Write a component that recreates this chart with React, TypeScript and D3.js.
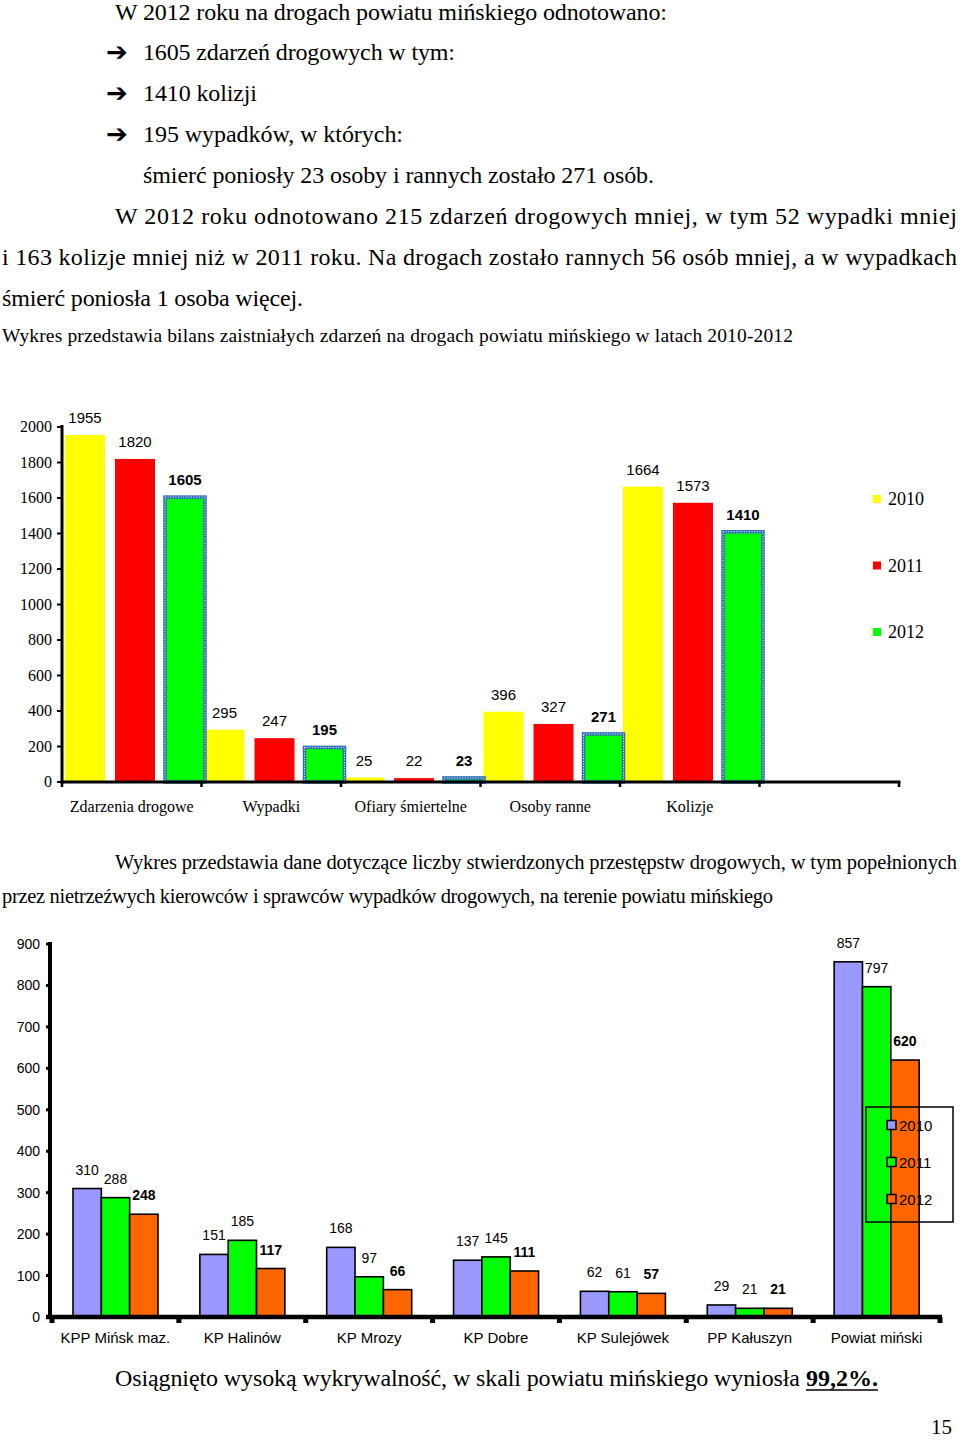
import React from "react";
import * as d3 from "d3";

// ---------- Chart 1 data ----------
const categories1 = ["Zdarzenia drogowe", "Wypadki", "Ofiary śmiertelne", "Osoby ranne", "Kolizje"];
const years = ["2010", "2011", "2012"];
const values2010a = [1955, 295, 25, 396, 1664];
const values2011a = [1820, 247, 22, 327, 1573];
const values2012a = [1605, 195, 23, 271, 1410];
const yTicks1 = [0, 200, 400, 600, 800, 1000, 1200, 1400, 1600, 1800, 2000];
const colors1 = ["#FFFF00", "#FF0000", "#00FF00"];

// ---------- Chart 2 data ----------
const categories2 = ["KPP Mińsk maz.", "KP Halinów", "KP Mrozy", "KP Dobre", "KP Sulejówek", "PP Kałuszyn", "Powiat miński"];
const values2010b = [310, 151, 168, 137, 62, 29, 857];
const values2011b = [288, 185, 97, 145, 61, 21, 797];
const values2012b = [248, 117, 66, 111, 57, 21, 620];
const yTicks2 = [0, 100, 200, 300, 400, 500, 600, 700, 800, 900];
const colors2 = ["#9999FF", "#00FF00", "#FF6600"];

const SERIF = "'Liberation Serif', 'Times New Roman', serif";
const SANS = "'Liberation Sans', Arial, sans-serif";

function Chart1() {
  const series = [values2010a, values2011a, values2012a];
  const y = d3.scaleLinear().domain([0, 2000]).range([782, 427]);
  const x = d3.scaleBand<string>().domain(categories1).range([62, 759.5]).paddingInner(0).paddingOuter(0);
  const xs = d3.scaleBand<string>().domain(years).range([3, 143]).paddingInner(0.2).paddingOuter(0);
  const axisEnd = 759.5 + x.step();
  const boundaries = d3.range(categories1.length + 2).map((i) => 62 + i * x.step());
  return (
    <g>
      {series.map((vals, si) =>
        vals.map((v, ci) => {
          const bx = (x(categories1[ci]) as number) + (xs(years[si]) as number);
          const bw = xs.bandwidth();
          const top = y(v);
          const h = y(0) - top;
          const isLast = si === 2;
          return (
            <g key={`b${si}-${ci}`}>
              <rect x={bx} y={top} width={bw} height={h} fill={colors1[si]} />
              {isLast && (
                <>
                  <rect x={bx} y={top} width={bw} height={h} fill="none" stroke="#2f6fb8" strokeWidth={3.5} />
                  <rect x={bx} y={top} width={bw} height={h} fill="none" stroke="#ffffff" strokeWidth={1} strokeDasharray="1 1.6" />
                </>
              )}
              <text
                x={bx + bw / 2}
                y={top - 12}
                textAnchor="middle"
                fontFamily={SANS}
                fontSize={15}
                fontWeight={isLast ? "bold" : "normal"}
                fill="#000"
              >
                {v}
              </text>
            </g>
          );
        })
      )}
      {/* axes */}
      <line x1={62} x2={62} y1={425} y2={783.5} stroke="#000" strokeWidth={3} />
      <line x1={60.5} x2={axisEnd + 1.5} y1={782} y2={782} stroke="#000" strokeWidth={3} />
      {yTicks1.map((t) => (
        <g key={`yt1-${t}`}>
          <line x1={57} x2={62} y1={y(t)} y2={y(t)} stroke="#000" strokeWidth={2} />
          <text x={52} y={y(t) + 5} textAnchor="end" fontFamily={SERIF} fontSize={16} fill="#000">
            {t}
          </text>
        </g>
      ))}
      {boundaries.map((bx, i) => (
        <line key={`xb1-${i}`} x1={bx} x2={bx} y1={782} y2={787} stroke="#000" strokeWidth={2.5} />
      ))}
      {categories1.map((c) => (
        <text
          key={`xl1-${c}`}
          x={(x(c) as number) + x.bandwidth() / 2}
          y={812}
          textAnchor="middle"
          fontFamily={SERIF}
          fontSize={16}
          fill="#000"
        >
          {c}
        </text>
      ))}
      {/* legend */}
      {years.map((yr, i) => {
        const cy = 499 + i * 66.5;
        return (
          <g key={`lg1-${yr}`}>
            <rect x={873} y={cy - 4} width={8} height={8} fill={colors1[i]} />
            <text x={888} y={cy + 6} fontFamily={SERIF} fontSize={18} fill="#000">
              {yr}
            </text>
          </g>
        );
      })}
    </g>
  );
}

function Chart2() {
  const series = [values2010b, values2011b, values2012b];
  const y = d3.scaleLinear().domain([0, 900]).range([1317, 944]);
  const x = d3.scaleBand<string>().domain(categories2).range([52, 940]).paddingInner(0).paddingOuter(0);
  const xs = d3.scaleBand<string>().domain(years).range([21, 106]).paddingInner(0).paddingOuter(0);
  const boundaries = d3.range(categories2.length + 1).map((i) => 52 + i * x.step());
  return (
    <g>
      {series.map((vals, si) =>
        vals.map((v, ci) => {
          const bx = (x(categories2[ci]) as number) + (xs(years[si]) as number);
          const bw = xs.bandwidth();
          const top = y(v);
          const h = y(0) - top;
          const isLast = si === 2;
          return (
            <g key={`c${si}-${ci}`}>
              <rect x={bx} y={top} width={bw} height={h} fill={colors2[si]} stroke="#000" strokeWidth={1.6} />
              <text
                x={bx + bw / 2}
                y={top - 14}
                textAnchor="middle"
                fontFamily={SANS}
                fontSize={14}
                fontWeight={isLast ? "bold" : "normal"}
                fill="#000"
              >
                {v}
              </text>
            </g>
          );
        })
      )}
      <line x1={50} x2={50} y1={942} y2={1319} stroke="#000" strokeWidth={4} />
      <line x1={46} x2={942} y1={1317} y2={1317} stroke="#000" strokeWidth={4.5} />
      {yTicks2.map((t) => (
        <g key={`yt2-${t}`}>
          <line x1={46} x2={50} y1={y(t)} y2={y(t)} stroke="#000" strokeWidth={3} />
          <text x={40} y={y(t) + 5} textAnchor="end" fontFamily={SANS} fontSize={14} fill="#000">
            {t}
          </text>
        </g>
      ))}
      {boundaries.map((bx, i) => (
        <rect key={`xb2-${i}`} x={bx - 2.5} y={1317} width={5} height={6} fill="#000" />
      ))}
      {categories2.map((c) => (
        <text
          key={`xl2-${c}`}
          x={(x(c) as number) + x.bandwidth() / 2}
          y={1343}
          textAnchor="middle"
          fontFamily={SANS}
          fontSize={15}
          fill="#000"
        >
          {c}
        </text>
      ))}
      {/* legend */}
      <rect x={866} y={1107} width={87} height={115} fill="none" stroke="#000" strokeWidth={1.5} />
      {years.map((yr, i) => {
        const cy = 1125 + i * 37;
        return (
          <g key={`lg2-${yr}`}>
            <rect x={887} y={cy - 4.5} width={9} height={9} fill={colors2[i]} stroke="#000" strokeWidth={1.5} />
            <text x={899} y={cy + 5.5} fontFamily={SANS} fontSize={15} fill="#000">
              {yr}
            </text>
          </g>
        );
      })}
    </g>
  );
}

function Line({ x, y, w, size, children, family = SERIF }: any) {
  return (
    <text x={x} y={y} fontFamily={family} fontSize={size} fill="#000" textLength={w} lengthAdjust="spacing">
      {children}
    </text>
  );
}

function Arrow({ y }: { y: number }) {
  return (
    <text x={106} y={y} fontFamily="'DejaVu Sans', sans-serif" fontSize={26} fontWeight="bold" fill="#000">
      ➔
    </text>
  );
}

export default function App() {
  return (
    <svg
      width={960}
      height={1440}
      viewBox="0 0 960 1440"
      style={{ position: "absolute", left: 0, top: 0, background: "#fff" }}
    >
      <rect x={0} y={0} width={960} height={1440} fill="#fff" />
      <Line x={115} y={20} w={552} size={24}>W 2012 roku na drogach powiatu mińskiego odnotowano:</Line>
      <Arrow y={61} />
      <Line x={143} y={60} w={312} size={24}>1605 zdarzeń drogowych w tym:</Line>
      <Arrow y={102} />
      <Line x={143} y={101} w={114} size={24}>1410 kolizji</Line>
      <Arrow y={143} />
      <Line x={143} y={142} w={260} size={24}>195 wypadków, w których:</Line>
      <Line x={143} y={183} w={511} size={24}>śmierć poniosły 23 osoby i rannych zostało 271 osób.</Line>
      <Line x={115} y={224} w={842} size={24}>W 2012 roku odnotowano 215 zdarzeń drogowych mniej, w tym 52 wypadki mniej</Line>
      <Line x={2} y={265} w={955} size={24}>i 163 kolizje mniej niż w 2011 roku. Na drogach zostało rannych 56 osób mniej, a w wypadkach</Line>
      <Line x={2} y={306} w={301} size={24}>śmierć poniosła 1 osoba więcej.</Line>
      <Line x={2} y={342} w={791} size={19.5}>Wykres przedstawia bilans zaistniałych zdarzeń na drogach powiatu mińskiego w latach 2010-2012</Line>

      <Chart1 />

      <Line x={115} y={869} w={842} size={20.5}>Wykres przedstawia dane dotyczące liczby stwierdzonych przestępstw drogowych, w tym popełnionych</Line>
      <Line x={2} y={903} w={771} size={20.5}>przez nietrzeźwych kierowców i sprawców wypadków drogowych, na terenie powiatu mińskiego</Line>

      <Chart2 />

      <Line x={115} y={1386} w={685} size={24}>Osiągnięto wysoką wykrywalność, w skali powiatu mińskiego wyniosła</Line>
      <text x={806} y={1386} fontFamily={SERIF} fontSize={24} fontWeight="bold" fill="#000" textLength={72} lengthAdjust="spacing">
        99,2%.
      </text>
      <line x1={806} x2={878} y1={1390} y2={1390} stroke="#000" strokeWidth={1.5} />
      <text x={952} y={1434} textAnchor="end" fontFamily={SERIF} fontSize={21} fill="#000">
        15
      </text>
    </svg>
  );
}
